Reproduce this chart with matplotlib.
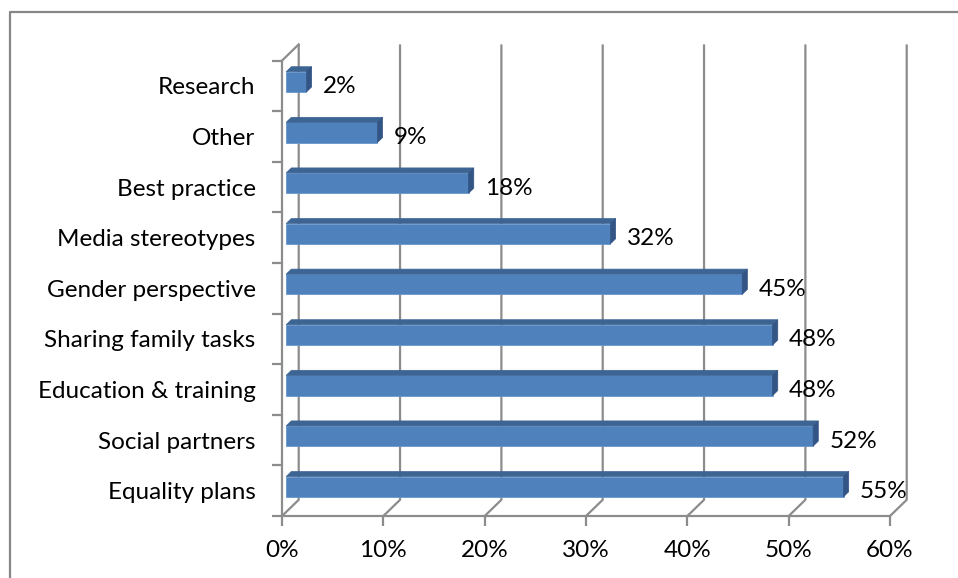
import matplotlib
matplotlib.use("Agg")
import matplotlib.pyplot as plt
from matplotlib.patches import Polygon
from matplotlib.lines import Line2D

categories = ["Equality plans", "Social partners", "Education & training",
              "Sharing family tasks", "Gender perspective", "Media stereotypes",
              "Best practice", "Other", "Research"]
values = [55, 52, 48, 48, 45, 32, 18, 9, 2]
x_ticks = [0, 10, 20, 30, 40, 50, 60]
x_tick_labels = ["0%", "10%", "20%", "30%", "40%", "50%", "60%"]

plt.rcParams["font.family"] = ["Lato", "DejaVu Sans"]

GRID = "#8c8c8c"
FRONT = "#4f81bd"
TOP = "#3d6594"
SIDE = "#325585"
FS = 17.5

# depth of the 3d box, in data units
DX, DY = 1.65, 0.32
# bar sits between these depth fractions
F0, F1 = 0.25, 0.56
BAR_H = 0.40

fig = plt.figure(figsize=(9.58, 5.78), dpi=100)
W, H = 958, 578
ax = fig.add_axes([282 / W, (H - 516) / H, (890 - 282) / W, (516 - 60.6) / H])
ax.set_xlim(0, 60)
ax.set_ylim(-0.5, len(categories) - 0.5)
ymin, ymax = ax.get_ylim()

# back wall gridlines and their floor segments
for t in x_ticks:
    ax.plot([t, t + DX, t + DX], [ymin, ymin + DY, ymax + DY],
            color=GRID, lw=1.6, clip_on=False, zorder=1, solid_capstyle="butt")
# top edge of the left wall
ax.plot([0, DX], [ymax, ymax + DY], color=GRID, lw=1.6, clip_on=False, zorder=1)

# 3d bars
for i, v in enumerate(values):
    x0 = F0 * DX
    yb = i + F0 * DY - BAR_H / 2
    yt = yb + BAR_H
    ddx = (F1 - F0) * DX
    ddy = (F1 - F0) * DY
    ax.add_patch(Polygon([(x0, yb), (x0 + v, yb), (x0 + v, yt), (x0, yt)],
                         closed=True, fc=FRONT, ec="#6a96cc", lw=0.6, zorder=3, clip_on=False))
    ax.add_patch(Polygon([(x0, yt), (x0 + v, yt), (x0 + v + ddx, yt + ddy), (x0 + ddx, yt + ddy)],
                         closed=True, fc=TOP, ec=TOP, lw=0.5, zorder=3, clip_on=False))
    ax.add_patch(Polygon([(x0 + v, yb), (x0 + v, yt), (x0 + v + ddx, yt + ddy), (x0 + v + ddx, yb + ddy)],
                         closed=True, fc=SIDE, ec=SIDE, lw=0.5, zorder=3, clip_on=False))
    ax.text(x0 + v + 1.6, i - 0.02, f"{v}%", va="center", ha="left", fontsize=FS,
            zorder=4, clip_on=False)

ax.set_xticks(x_ticks)
ax.set_xticklabels(x_tick_labels)
ax.set_yticks(range(len(categories)))
ax.set_yticklabels(categories)
ax.set_yticks([k - 0.5 for k in range(len(categories) + 1)], minor=True)
ax.tick_params(axis="y", which="major", length=0, pad=19, labelsize=FS)
ax.tick_params(axis="y", which="minor", length=7, width=1.6, color=GRID)
ax.tick_params(axis="x", length=7, width=1.6, color=GRID, pad=10, labelsize=FS)

for s in ["top", "right"]:
    ax.spines[s].set_visible(False)
for s in ["left", "bottom"]:
    ax.spines[s].set_color(GRID)
    ax.spines[s].set_linewidth(1.6)
    ax.spines[s].set_zorder(2)
ax.patch.set_visible(False)

# chart area border (left and top edges)
fig.add_artist(Line2D([10 / W, 10 / W, 1.0], [0.0, (H - 12) / H, (H - 12) / H],
                      color="#868686", lw=1.6, transform=fig.transFigure))

fig.savefig("out.png", dpi=100)
